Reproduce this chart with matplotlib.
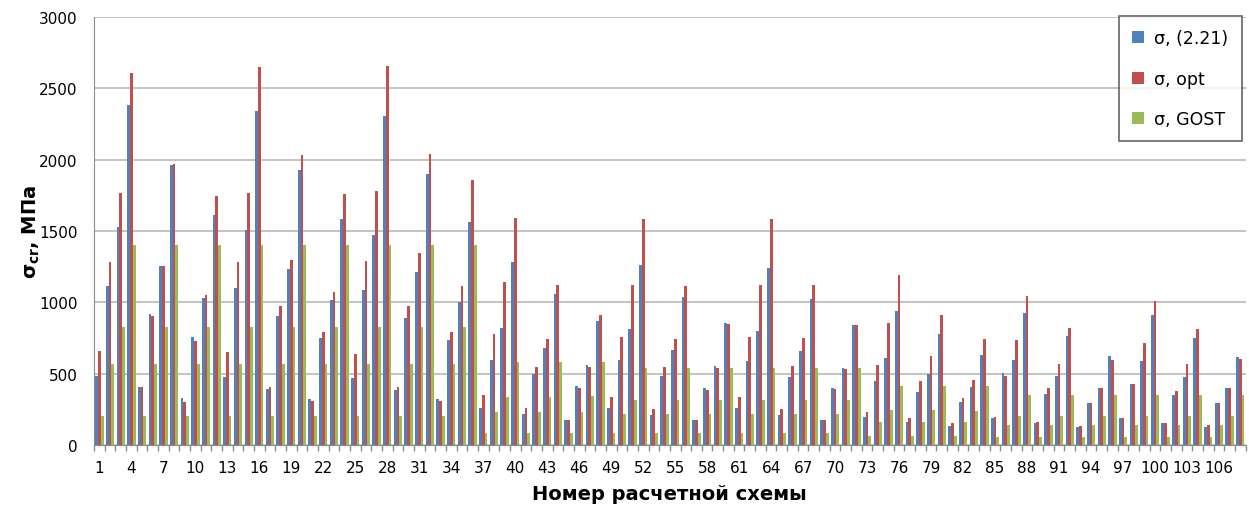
import numpy as np
import matplotlib
matplotlib.use("Agg")
import matplotlib.pyplot as plt
from matplotlib.ticker import FixedLocator, NullFormatter

plt.rcParams['font.family'] = ['DejaVu Sans']

# Scheme numbers 1..108
schemes = list(range(1, 109))

sigma_221 = [
    485, 1117, 1527, 2384, 403, 920, 1258, 1960, 328, 756,
    1033, 1611, 480, 1103, 1504, 2342, 393, 906, 1237, 1930,
    323, 747, 1019, 1583, 473, 1084, 1475, 2305, 386, 890,
    1215, 1897, 321, 733, 1000, 1564, 258, 598, 819, 1284,
    216, 498, 678, 1056, 176, 411, 559, 871, 261, 594,
    812, 1260, 209, 481, 664, 1040, 174, 399, 552, 857,
    256, 587, 798, 1244, 209, 479, 657, 1026, 174, 397,
    537, 840, 199, 446, 608, 941, 160, 368, 498, 777,
    136, 300, 408, 634, 190, 502, 594, 927, 153, 359,
    486, 763, 124, 296, 401, 627, 188, 427, 587, 913,
    153, 350, 479, 751, 129, 291, 399, 615,
]

sigma_opt = [
    656, 1283, 1764, 2611, 407, 906, 1258, 1972, 304, 731,
    1052, 1742, 649, 1286, 1766, 2653, 405, 972, 1300, 2035,
    311, 792, 1073, 1761, 637, 1293, 1782, 2658, 403, 972,
    1347, 2042, 307, 789, 1115, 1857, 350, 779, 1145, 1594,
    260, 549, 742, 1120, 176, 397, 549, 913, 338, 756,
    1122, 1584, 253, 549, 742, 1112, 174, 387, 537, 850,
    333, 756, 1122, 1584, 253, 556, 753, 1122, 174, 392,
    533, 840, 228, 559, 852, 1192, 188, 446, 622, 913,
    153, 326, 453, 744, 195, 486, 737, 1042, 162, 397,
    570, 819, 136, 293, 399, 598, 188, 427, 713, 1012,
    153, 380, 566, 814, 138, 296, 401, 606,
]

sigma_gost = [
    204, 569, 827, 1405, 204, 569, 827, 1405, 204, 569,
    827, 1405, 204, 569, 827, 1405, 204, 569, 827, 1405,
    204, 569, 827, 1405, 204, 569, 827, 1405, 204, 569,
    827, 1405, 204, 569, 827, 1405, 82, 228, 338, 580,
    82, 228, 338, 580, 82, 232, 340, 580, 82, 218,
    317, 540, 82, 218, 317, 540, 82, 218, 317, 540,
    82, 218, 317, 540, 82, 218, 317, 540, 82, 218,
    317, 540, 63, 160, 242, 411, 63, 160, 242, 411,
    63, 160, 239, 411, 56, 141, 202, 352, 56, 141,
    204, 352, 56, 141, 204, 352, 56, 141, 204, 352,
    56, 141, 204, 352, 56, 141, 204, 352,
]

series_labels = ["σ, (2.21)", "σ, opt", "σ, GOST"]
series_colors = ["#4F81BD", "#C0504D", "#9BBB59"]

fig = plt.figure(figsize=(12.49, 5.06), dpi=100)
ax = fig.add_axes([0.0753, 0.1186, 0.922, 0.8458])

x = np.arange(len(schemes))
w = 0.26
for k, (vals, lab, col) in enumerate(zip([sigma_221, sigma_opt, sigma_gost],
                                           series_labels, series_colors)):
    ax.bar(x + (k - 1) * w, vals, width=w, color=col, label=lab, zorder=3,
           linewidth=0)

ax.set_xlim(-0.5, len(schemes) - 0.5)
ax.set_ylim(0, 3000)
ax.set_yticks(np.arange(0, 3001, 500))
ax.yaxis.grid(True, color="#BEBEBE", linewidth=1.3, zorder=0)
ax.tick_params(axis='y', length=0, labelsize=11, pad=12)

# labels on every third scheme, ticks on category boundaries
ax.set_xticks(x[::3])
ax.set_xticklabels([str(s) for s in schemes[::3]])
ax.tick_params(axis='x', which='major', length=0, labelsize=11, pad=11)
ax.xaxis.set_minor_locator(FixedLocator(np.arange(-0.5, len(schemes), 1.0)))
ax.xaxis.set_minor_formatter(NullFormatter())
ax.tick_params(axis='x', which='minor', length=4, color="#8C8C8C", width=1)

for side in ("top", "right"):
    ax.spines[side].set_visible(False)
ax.spines["left"].set_color("#8C8C8C")
ax.spines["bottom"].set_color("#8C8C8C")

ax.set_xlabel("Номер расчетной схемы", fontsize=14, fontweight="bold", labelpad=6)
ax.set_ylabel(r"$\mathbf{\sigma_{cr}}$, МПа", fontsize=14, fontweight="bold", labelpad=-2)

leg = ax.legend(loc="upper right", bbox_to_anchor=(1.004, 1.022), fontsize=12.5,
                frameon=True, fancybox=False, edgecolor="#404040",
                handlelength=0.7, handleheight=0.7, labelspacing=1.3,
                borderpad=0.75, handletextpad=0.6)
leg.get_frame().set_linewidth(1.2)
leg.set_zorder(5)

fig.savefig("out.png", dpi=100, facecolor="white")
